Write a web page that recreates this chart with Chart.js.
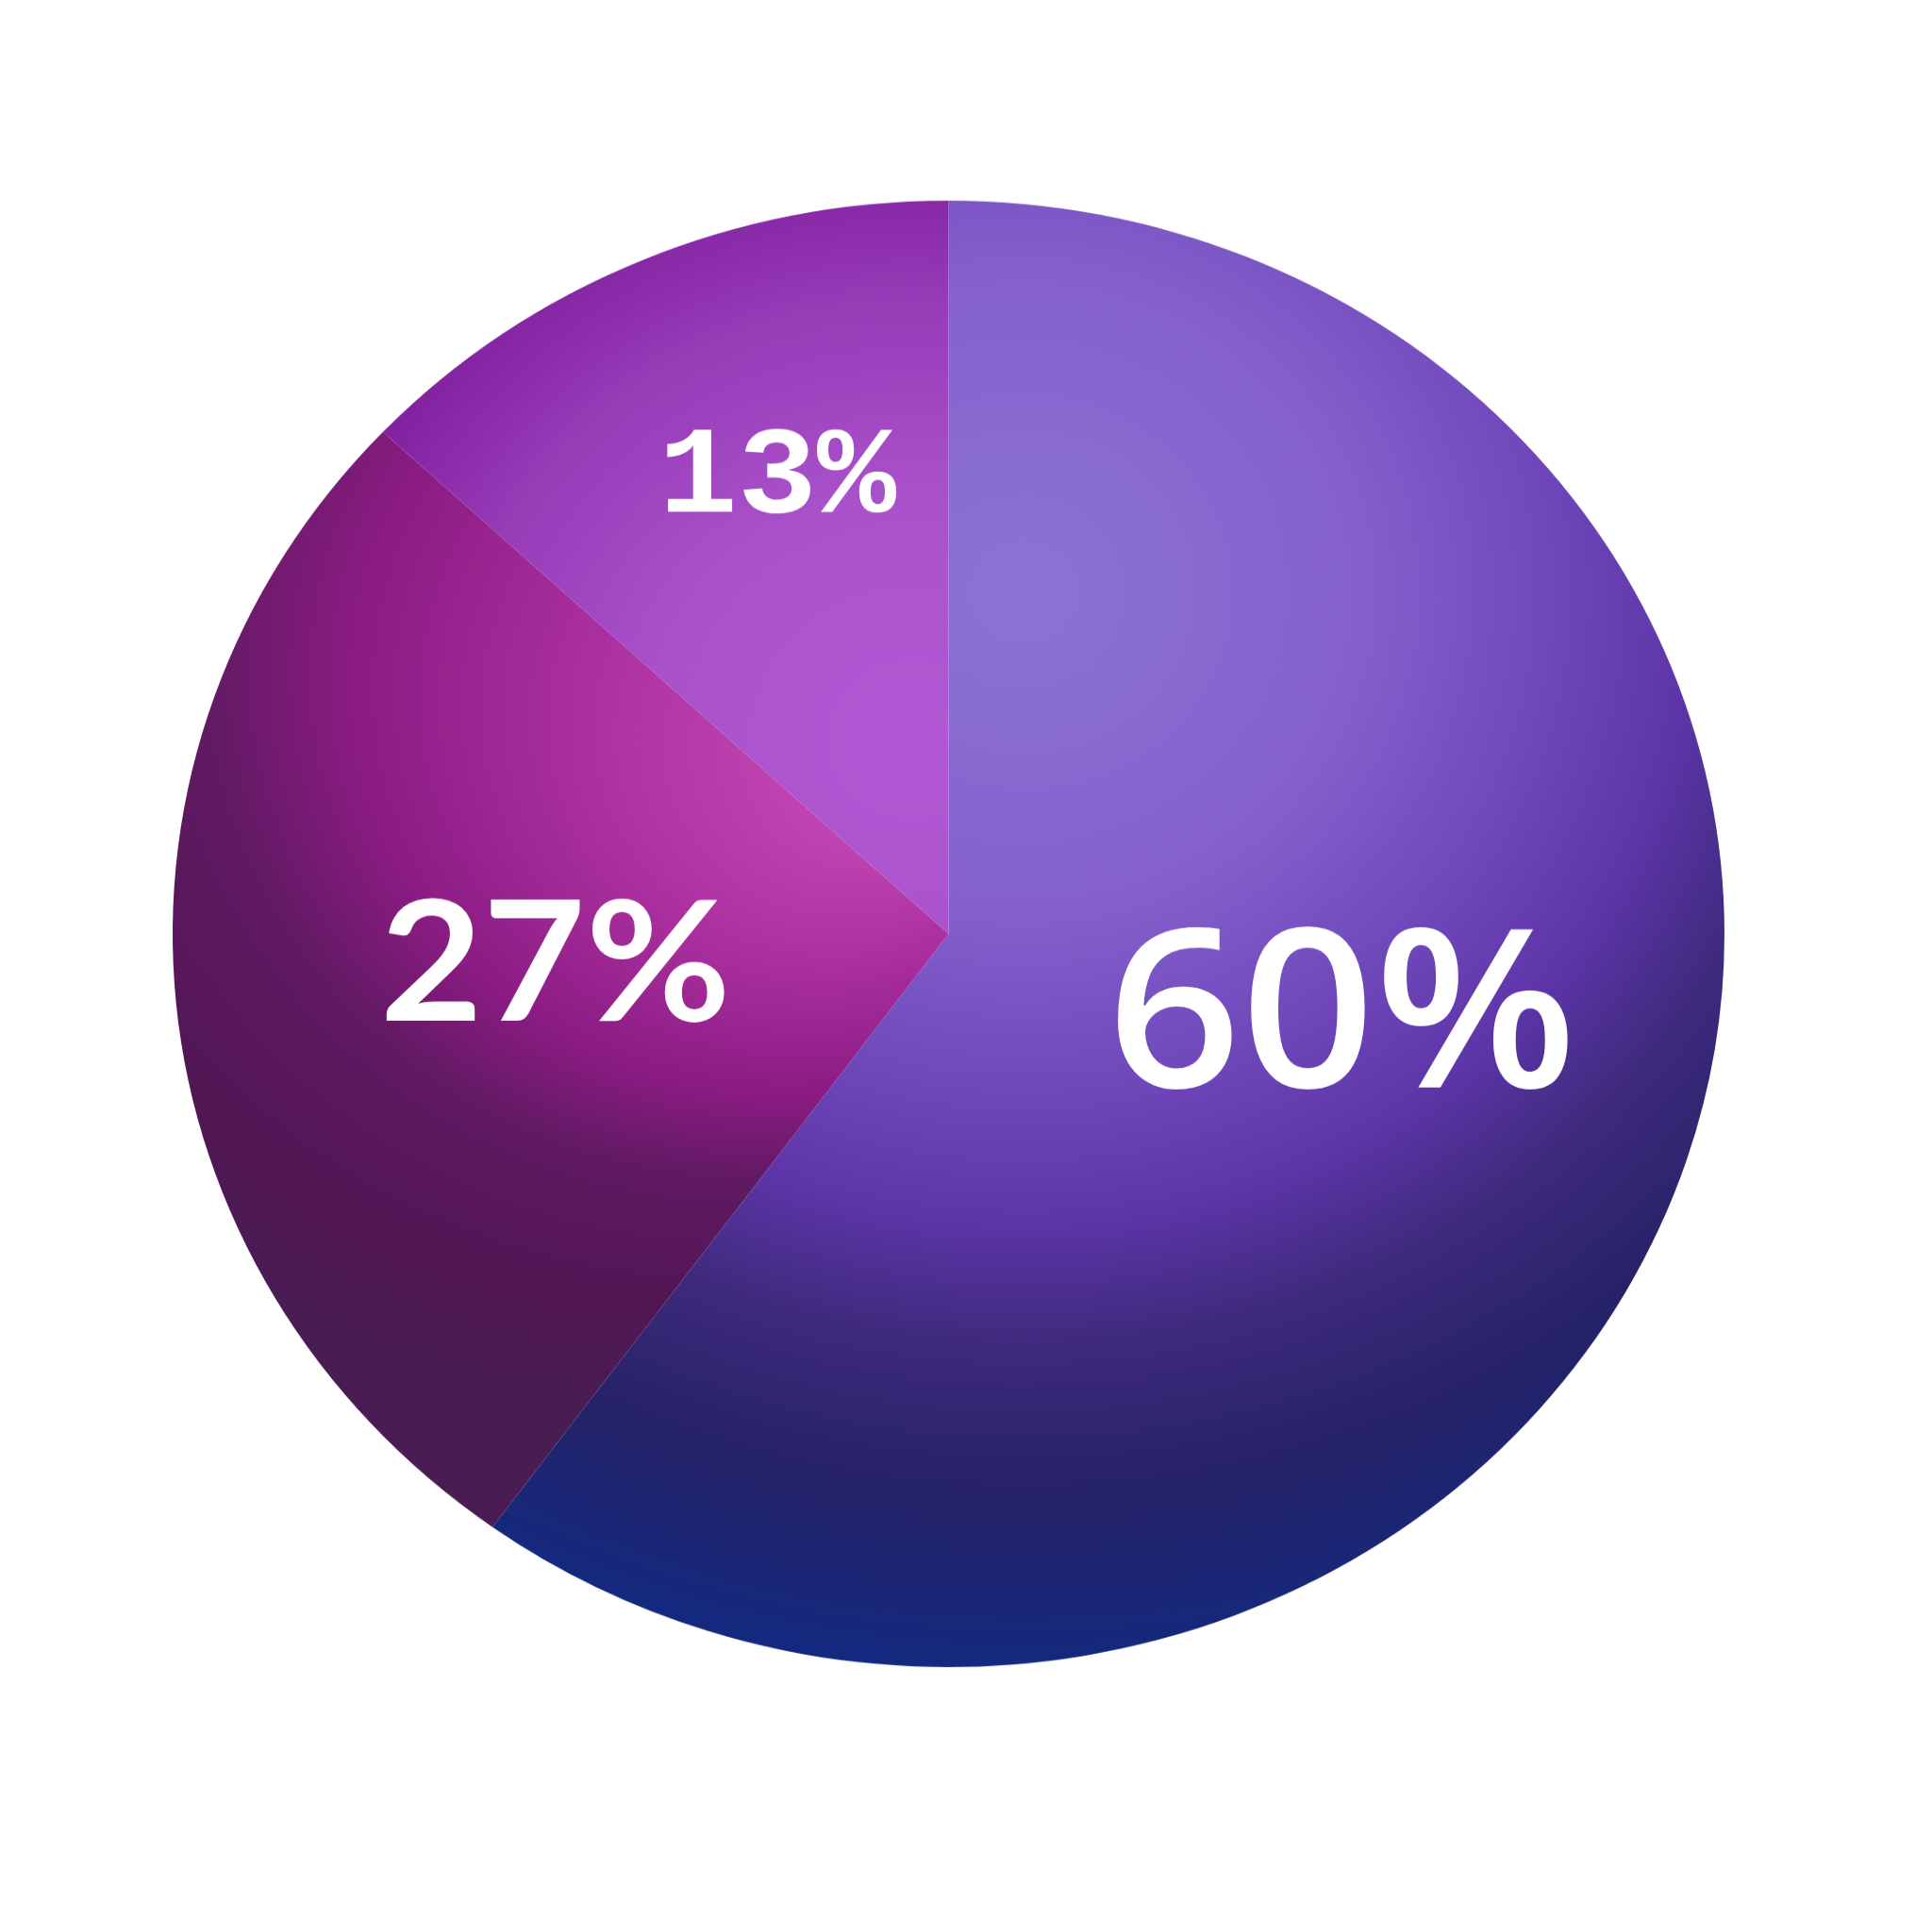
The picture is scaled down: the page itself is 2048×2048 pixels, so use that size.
<!doctype html>
<html lang="en">

<head>
  <meta charset="utf-8">
  <title>Share pie</title>
  <script src="https://cdn.jsdelivr.net/npm/chart.js"></script> <!-- Chart.js -->
  <style>
    html, body { margin: 0; padding: 0; background: #ffffff; }
    /* the reference pie is a little wider than it is tall */
    .wrap { width: 2048px; height: 2048px; transform: scaleY(0.945); transform-origin: 0 0; }
  </style>
</head>

<body>
  <div class="wrap">
    <canvas id="pieChart" width="2048" height="2048" role="img" aria-label="Pie chart: 60%, 27%, 13%"></canvas>
  </div>

  <script>
    // === DATA ===
    const categories = ["60%", "27%", "13%"];
    const values = [60, 27, 13];

    // === STYLE: gradients per slice (positions relative to pie centre, in radii) ===
    const sliceGradients = [
      { c0: [0.096, -0.467], c1: [0.096, -0.467], r1: 1.47,
        stops: [[0, "#8c74d4"], [0.3, "#8460cc"], [0.5, "#6a42b6"], [0.58, "#5e36aa"],
                [0.7, "#3e2a7c"], [0.84, "#252268"], [1, "#13297f"]] },
      { c0: [-0.079, -0.198], c1: [-0.333, -0.483], r1: 1.11,
        stops: [[0, "#c84cb8"], [0.25, "#b034a4"], [0.5, "#8c1c84"], [0.65, "#601a62"],
                [0.85, "#521654"], [1, "#4a1c54"]] },
      { c0: [-0.047, -0.265], c1: [-0.047, -0.265], r1: 0.79,
        stops: [[0, "#b258d4"], [0.4, "#aa52cc"], [0.75, "#983cb8"], [1, "#8222a0"]] }
    ];

    // label look: font, radius fraction, small angle shift (degrees, clockwise)
    const labelStyles = [
      { font: "600 248px 'Open Sans'", radius: 0.518, shift: -6.8 },
      { font: "700 188px Lato", radius: 0.508, shift: 1.4 },
      { font: "700 140px 'Liberation Mono'", radius: 0.666, shift: 4.6 }
    ];

    // === HELPER: build a slice gradient from the chart area ===
    const gradientCache = {};
    function sliceFill(context) {
      const chart = context.chart;
      const area = chart.chartArea;
      if (!area) return "#7a50c4";
      const i = context.dataIndex;
      if (gradientCache[i]) return gradientCache[i];
      const cx = (area.left + area.right) / 2;
      const cy = (area.top + area.bottom) / 2;
      const R = Math.min(area.right - area.left, area.bottom - area.top) / 2;
      const g = sliceGradients[i];
      const grad = chart.ctx.createRadialGradient(
        cx + g.c0[0] * R, cy + g.c0[1] * R, 0,
        cx + g.c1[0] * R, cy + g.c1[1] * R, g.r1 * R);
      g.stops.forEach(s => grad.addColorStop(s[0], s[1]));
      gradientCache[i] = grad;
      return grad;
    }

    // === PLUGIN: percentage labels inside slices (centred on the glyph box) ===
    const sliceLabels = {
      id: "sliceLabels",
      afterDatasetsDraw(chart) {
        const ctx = chart.ctx;
        const arcs = chart.getDatasetMeta(0).data;
        ctx.save();
        ctx.fillStyle = "#ffffff";
        ctx.textAlign = "left";
        ctx.textBaseline = "alphabetic";
        arcs.forEach((arc, i) => {
          const p = arc.getProps(["x", "y", "startAngle", "endAngle", "outerRadius"], true);
          const st = labelStyles[i];
          const mid = (p.startAngle + p.endAngle) / 2 + st.shift * Math.PI / 180;
          const r = p.outerRadius * st.radius;
          const tx = p.x + Math.cos(mid) * r;
          const ty = p.y + Math.sin(mid) * r;
          ctx.font = st.font;
          const m = ctx.measureText(categories[i]);
          const w = m.actualBoundingBoxLeft + m.actualBoundingBoxRight;
          const h = m.actualBoundingBoxAscent + m.actualBoundingBoxDescent;
          ctx.fillText(categories[i],
            tx - w / 2 + m.actualBoundingBoxLeft,
            ty + h / 2 - m.actualBoundingBoxDescent);
        });
        ctx.restore();
      }
    };

    // === PIE CHART ===
    new Chart(document.getElementById("pieChart"), {
      type: "pie",
      data: {
        labels: categories,
        datasets: [{
          data: values,
          backgroundColor: sliceFill,
          borderWidth: 0
        }]
      },
      options: {
        responsive: false,
        animation: false,
        layout: { padding: { left: 183, right: 220, top: 225, bottom: 178 } },
        plugins: {
          legend: { display: false },
          tooltip: { enabled: false }
        }
      },
      plugins: [sliceLabels]
    });
  </script>

</body>

</html>
